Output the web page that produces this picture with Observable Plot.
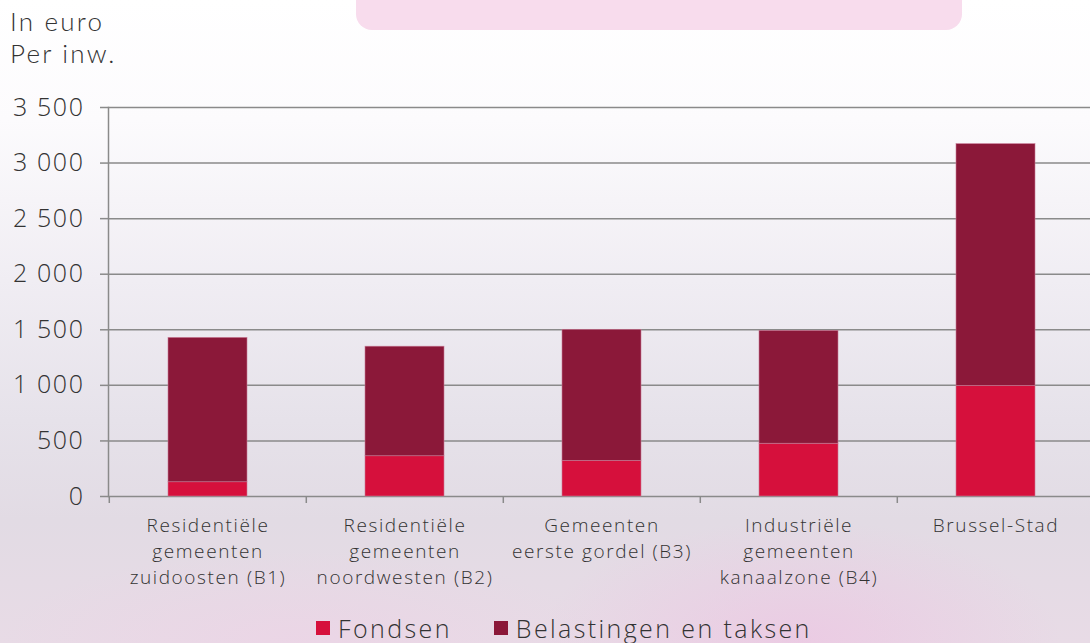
<!DOCTYPE html>
<html>
<head>
<meta charset="utf-8">
<script src="https://cdn.jsdelivr.net/npm/d3@7"></script>
<script src="https://cdn.jsdelivr.net/npm/@observablehq/plot@0.6"></script>
<style>
  html, body { margin: 0; padding: 0; overflow: hidden; }
  body { width: 1090px; height: 643px; position: relative; font-family: "Open Sans", sans-serif; font-weight: 300; color: #333;
    background:
      radial-gradient(ellipse 260px 120px at 800px 640px, rgba(238,190,225,0.55), rgba(238,190,225,0) 100%),
      radial-gradient(ellipse 300px 90px at 300px 640px, rgba(240,205,230,0.4), rgba(240,205,230,0) 100%),
      linear-gradient(to bottom, #ffffff 0px, #fcfbfd 120px, #f0edf3 280px, #e6e2ea 420px, #e2dbe4 520px, #e8dbe6 643px);
  }
  #pill { position: absolute; left: 356px; top: -20px; width: 606px; height: 50px; border-radius: 16px; background: #f8dced; }
  .tline { position: absolute; left: 10px; font-family: Lato, "Open Sans", sans-serif; font-weight: 300; font-size: 26px; line-height: 26px; height: 26px; letter-spacing: 2.2px; white-space: nowrap; }
  #chart { position: absolute; left: 0; top: 80px; }
  #legend { position: absolute; left: 316px; top: 612px; display: flex; align-items: center; font-size: 25px; line-height: 32px; letter-spacing: 2.4px; }
  .sw { display: inline-block; width: 14px; height: 14px; margin-right: 8px; }
  .item { display: flex; align-items: center; margin-right: 42px; }
  #chart svg g[aria-label="y-axis tick label"] text { letter-spacing: 1.6px; }
  #chart svg g[aria-label="x-axis tick label"] text { letter-spacing: 1.6px; }
</style>
</head>
<body>
<div id="pill"></div>
<div id="title"></div>
<div id="chart"></div>
<div id="legend"></div>
<script>
const titleLines = ["In euro", "Per inw."];
const categories = [
  "Residentiële\ngemeenten\nzuidoosten (B1)",
  "Residentiële\ngemeenten\nnoordwesten (B2)",
  "Gemeenten\neerste gordel (B3)",
  "Industriële\ngemeenten\nkanaalzone (B4)",
  "Brussel-Stad"
];
const seriesNames = ["Fondsen", "Belastingen en taksen"];
const fondsen = [128, 362, 320, 475, 995];
const belastingen = [1299, 986, 1180, 1015, 2175];
const seriesColors = ["#d6103c", "#8b1839"];
const yTicks = [0, 500, 1000, 1500, 2000, 2500, 3000, 3500];

const titleEl = document.getElementById("title");
titleLines.forEach((t, i) => {
  const d = document.createElement("div");
  d.className = "tline";
  d.style.top = (8 + i * 32) + "px";
  d.textContent = t;
  titleEl.appendChild(d);
});

const rows = [];
categories.forEach((c, i) => {
  rows.push({cat: c, series: seriesNames[0], value: fondsen[i]});
  rows.push({cat: c, series: seriesNames[1], value: belastingen[i]});
});

const W = 1095, ML = 108;
const step = (W - ML) / categories.length;
const fmt = v => d3.format(",")(v).replace(/,/g, " ");

const chart = Plot.plot({
  width: W,
  height: 520,
  marginTop: 27,
  marginBottom: 104,
  marginLeft: ML,
  marginRight: 0,
  style: {fontFamily: "'Open Sans', sans-serif", fontWeight: 300, color: "#333", background: "transparent", overflow: "visible", maxWidth: "none"},
  x: {domain: categories, paddingInner: 0.6, paddingOuter: 0.3, label: null},
  y: {domain: [0, 3500], label: null},
  color: {domain: seriesNames, range: seriesColors},
  marks: [
    Plot.gridY(yTicks, {stroke: "#8a8a8a", strokeOpacity: 1, strokeWidth: 1.5}),
    Plot.axisY(yTicks, {tickSize: 8, tickPadding: 16, stroke: "#8a8a8a", strokeWidth: 1.5, fontSize: 25, fill: "#333", tickFormat: fmt, label: null}),
    Plot.frame({anchor: "left", stroke: "#8a8a8a", strokeWidth: 1.5}),
    Plot.axisX({tickSize: 7, stroke: "#8a8a8a", strokeWidth: 1.5, text: null, dx: -step / 2, label: null}),
    Plot.axisX({tickSize: 0, tickPadding: 17, fontSize: 19, lineHeight: 1.37, fill: "#333", label: null}),
    Plot.barY(rows, {x: "cat", y: "value", fill: "series", stroke: "#c87a95", strokeWidth: 0.6})
  ]
});
document.getElementById("chart").appendChild(chart);

const legend = document.getElementById("legend");
seriesNames.forEach((s, i) => {
  const it = document.createElement("div");
  it.className = "item";
  it.innerHTML = `<span class="sw" style="background:${seriesColors[i]}"></span><span>${s}</span>`;
  legend.appendChild(it);
});
</script>
</body>
</html>
